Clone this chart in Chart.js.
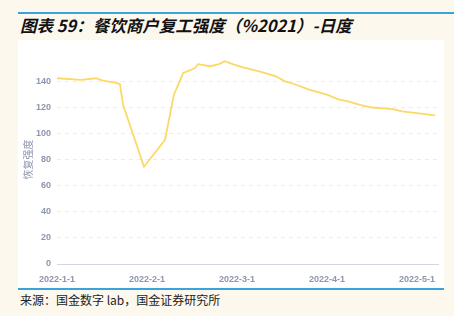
<!DOCTYPE html>
<html>
<head>
<meta charset="utf-8">
<script src="https://cdn.jsdelivr.net/npm/chart.js@4"></script>
<style>
  html, body { margin:0; padding:0; }
  body { width:454px; height:316px; background:#fdf8ee; position:relative; overflow:hidden;
         font-family:"Noto Sans CJK SC", "Liberation Sans", sans-serif; }
  #topLine { position:absolute; left:18px; top:12px; width:436px; height:1.5px; background:#3ba3dc; }
  #title { position:absolute; left:20px; top:15px; font-size:16.5px; font-weight:bold; font-style:italic;
           color:#111; white-space:nowrap; line-height:20px; }
  #panel { position:absolute; left:18px; top:40px; width:426px; height:248px; background:#fff; }
  #bottomLine { position:absolute; left:18px; top:288px; width:426px; height:1.5px; background:#3ba3dc; }
  #source { position:absolute; left:20px; top:292px; font-size:12px; color:#222; white-space:nowrap; line-height:16px; }
</style>
</head>
<body>
<div id="topLine"></div>
<div id="title">图表 59：餐饮商户复工强度（%2021）-日度</div>
<div id="panel"><canvas id="chart" width="426" height="248"></canvas></div>
<div id="bottomLine"></div>
<div id="source">来源：国金数字 lab，国金证券研究所</div>

<script>
// day index since 2022-1-1
const days = [0, 8, 13, 15, 20, 21, 22, 29, 36, 39, 40, 42, 46, 47, 51, 54, 56, 59, 62, 68,
              70, 73, 76, 79, 84, 90, 94, 97, 101, 105, 112, 115, 120, 126];
const values = [142.2, 140.9, 142.2, 140.6, 138.5, 137.5, 122, 74.5, 95, 130, 135, 146, 150, 153, 151.4, 153, 155.2, 152.7, 150.6, 147.1,
                145.8, 143.7, 139.8, 137.8, 133.5, 129.6, 125.8, 124.5, 121.9, 119.8, 118.6, 116.8, 115.5, 113.7];
const xLabels = ["2022-1-1", "2022-2-1", "2022-3-1", "2022-4-1", "2022-5-1"];
const yTitle = "恢复强度";

const tickColor = "#8e95ae";

new Chart(document.getElementById("chart"), {
  type: "line",
  data: {
    datasets: [{
      data: days.map((d, i) => ({x: d, y: values[i]})),
      borderColor: "#fbd964",
      borderWidth: 1.8,
      pointRadius: 0,
      tension: 0,
      fill: false
    }]
  },
  options: {
    responsive: false,
    animation: false,
    devicePixelRatio: 1,
    layout: { padding: { top: 15, right: 6, left: 0, bottom: 0 } },
    plugins: { legend: { display: false }, tooltip: { enabled: false } },
    scales: {
      x: {
        type: "linear",
        min: 0,
        max: 127,
        afterBuildTicks: s => { s.ticks = s.ticks.filter(t => t.value % 30 === 0); },
        afterFit: s => { s.height = 24; },
        ticks: {
          stepSize: 30,
          includeBounds: false,
          autoSkip: false,
          maxRotation: 0,
          padding: 2,
          color: tickColor,
          font: { family: "Liberation Sans", size: 9, weight: "bold" },
          callback: v => xLabels[v / 30]
        },
        grid: { display: false },
        border: { display: true, color: "#d3d6de", width: 1 }
      },
      y: {
        min: 0,
        max: 160,
        afterBuildTicks: s => { s.ticks = s.ticks.filter(t => t.value <= 140); },
        afterFit: s => { s.width = 39; },
        ticks: {
          stepSize: 20,
          padding: 6,
          color: tickColor,
          font: { family: "Liberation Sans", size: 9, weight: "bold" }
        },
        grid: {
          color: "#ececec",
          lineWidth: 1,
          drawTicks: false
        },
        border: { display: false, dash: [4, 4] },
        title: {
          display: true,
          text: yTitle,
          color: tickColor,
          font: { family: "Noto Sans CJK SC", size: 10 },
          padding: { top: 4, bottom: 0 }
        }
      }
    }
  }
});
</script>
</body>
</html>
